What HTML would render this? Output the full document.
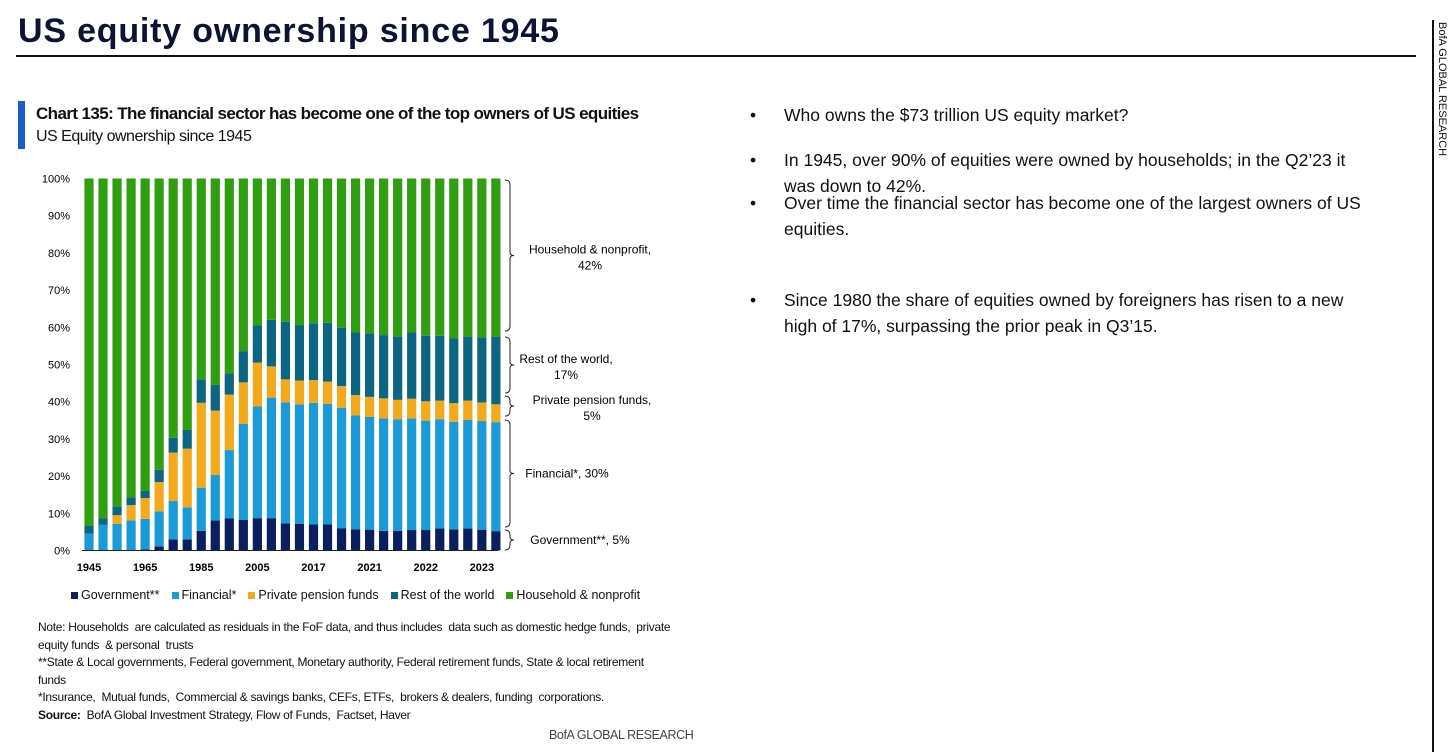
<!DOCTYPE html>
<html><head><meta charset="utf-8">
<style>
body{margin:0;width:1456px;height:752px;background:#fff;position:relative;overflow:hidden;font-family:"Liberation Sans",sans-serif;color:#111}
.a{position:absolute;white-space:nowrap}
.n{font-family:"Liberation Sans Narrow","Liberation Sans",sans-serif}
.b{position:absolute;left:784px;width:600px;font-size:17.5px;line-height:26px;color:#111}
.b:before{content:"•";position:absolute;left:-34px}
</style></head><body>
<div class="a" style="left:18px;top:12px;font-size:34px;font-weight:bold;color:#0b1533;letter-spacing:0.8px">US equity ownership since 1945</div>
<div class="a" style="left:16px;top:55px;width:1400px;height:1.5px;background:#111"></div>
<div class="a" style="left:1432px;top:20px;width:1.5px;height:732px;background:#111"></div>
<div class="a" style="left:1436px;top:22px;font-size:11px;writing-mode:vertical-rl">BofA GLOBAL RESEARCH</div>
<div class="a" style="left:18px;top:101px;width:7px;height:48px;background:#1a5ccc"></div>
<div class="a n" style="left:36px;top:104px;font-size:17px;font-weight:bold;letter-spacing:-0.6px">Chart 135: The financial sector has become one of the top owners of US equities</div>
<div class="a n" style="left:36px;top:128px;font-size:16px;letter-spacing:-0.5px">US Equity ownership since 1945</div>
<svg class="a" style="left:0;top:0" width="700" height="620" id="chart"></svg>
<div class="a" style="left:71px;top:588px;font-size:12.5px" id="legend"></div>
<div class="a n" style="left:38px;top:619px;font-size:12px;line-height:17.5px;letter-spacing:-0.3px">Note: Households &nbsp;are calculated as residuals in the FoF data, and thus includes &nbsp;data such as domestic hedge funds, &nbsp;private<br>equity funds &nbsp;&amp; personal &nbsp;trusts<br>**State &amp; Local governments, Federal government, Monetary authority, Federal retirement funds, State &amp; local retirement<br>funds<br>*Insurance, &nbsp;Mutual funds, &nbsp;Commercial &amp; savings banks, CEFs, ETFs, &nbsp;brokers &amp; dealers, funding &nbsp;corporations.<br><b>Source:</b> &nbsp;BofA Global Investment Strategy, Flow of Funds, &nbsp;Factset, Haver</div>
<div class="a n" style="left:549px;top:728px;font-size:12.5px;color:#444;letter-spacing:-0.4px">BofA GLOBAL RESEARCH</div>
<div class="b" style="top:102px">Who owns the $73 trillion US equity market?</div>
<div class="b" style="top:147px">In 1945, over 90% of equities were owned by households; in the Q2’23 it<br>was down to 42%.</div>
<div class="b" style="top:190px">Over time the financial sector has become one of the largest owners of US<br>equities.</div>
<div class="b" style="top:287px">Since 1980 the share of equities owned by foreigners has risen to a new<br>high of 17%, surpassing the prior peak in Q3’15.</div>
<script>
const categories=["1945","","","","1965","","","","1985","","","","2005","","","","2017","","","","2021","","","","2022","","","","2023",""];
const government=[0,0,0,0,0.3,1.1,3.0,3.0,5.3,8.1,8.6,8.2,8.7,8.7,7.3,7.2,7.0,7.0,6.0,5.7,5.6,5.3,5.3,5.5,5.5,5.9,5.7,5.9,5.6,5.2];
const financialCum=[4.5,6.9,7.2,8.1,8.5,10.5,13.3,11.6,16.9,20.3,27.0,34.0,38.7,41.1,39.8,39.3,39.7,39.4,38.4,36.3,35.9,35.5,35.3,35.5,34.9,35.3,34.6,35.1,34.8,34.5];
const pensionCum=[4.5,6.9,9.5,12.2,14.1,18.4,26.3,27.4,39.7,37.6,41.9,45.2,50.5,49.5,46.0,45.7,45.8,45.4,44.2,41.8,41.3,40.9,40.5,40.8,40.1,40.3,39.6,40.3,39.8,39.3];
const rowCum=[6.6,8.7,11.8,14.3,16.1,21.7,30.3,32.4,46.0,44.5,47.6,53.6,60.5,62.0,61.5,60.6,61.1,61.2,59.9,58.6,58.4,57.9,57.5,58.6,57.7,57.7,57.0,57.5,57.3,57.5];
const yTicks=[0,10,20,30,40,50,60,70,80,90,100];
const seriesNames=["Government**","Financial*","Private pension funds","Rest of the world","Household & nonprofit"];
const colors=["#0b1f5e","#1b9ad8","#f2a91c","#0d6584","#2f9e10"];
const NS="http://www.w3.org/2000/svg",svg=document.getElementById('chart');
const y=v=>550.5-v*3.72, x=i=>89+i*14.03;
function el(t,a){const e=document.createElementNS(NS,t);for(const k in a)e.setAttribute(k,a[k]);svg.appendChild(e);return e;}
yTicks.forEach(t=>{const e=el('text',{x:70,y:y(t)+4,'text-anchor':'end','font-size':11});e.textContent=t+'%';

});
categories.forEach((c,i)=>{
 const b=[0,government[i],financialCum[i],pensionCum[i],rowCum[i],100];
 for(let s=0;s<5;s++){if(b[s+1]<=b[s])continue;const r=el('rect',{x:x(i)-4.6,y:y(b[s+1]),width:9.2,height:y(b[s])-y(b[s+1]),fill:colors[s]});
 
 }
 if(c){const t=el('text',{x:x(i),y:571,'text-anchor':'middle','font-size':11,'font-weight':'bold'});t.textContent=c;
 
 }
});
const ax=el('line',{x1:82,x2:498,y1:550.5,y2:550.5,stroke:'#222','stroke-width':1});


const br=[[180,331,"Household & nonprofit,","42%",590],[337,393,"Rest of the world,","17%",566],[396,416,"Private pension funds,","5%",592],[420,527,"Financial*, 30%","",567],[530,550,"Government**, 5%","",580]];
br.forEach(b=>{const m=(b[0]+b[1])/2;
 const p=el('path',{d:`M505 ${b[0]} Q510 ${b[0]} 510 ${b[0]+5} L510 ${m-3} Q510 ${m} 514 ${m} Q510 ${m} 510 ${m+3} L510 ${b[1]-5} Q510 ${b[1]} 505 ${b[1]}`,fill:'none',stroke:'#222','stroke-width':1});
 
 
 const t1=el('text',{x:b[4],y:b[3]?m-2:m+4,'text-anchor':'middle','font-size':12});t1.textContent=b[2];
 
 
 if(b[3]){const t2=el('text',{x:b[4],y:m+14,'text-anchor':'middle','font-size':12});t2.textContent=b[3];
 
 }
});
const lg=document.getElementById('legend');
seriesNames.forEach((n,i)=>{const s=document.createElement('span');s.style.marginRight='12px';
s.innerHTML=`<span style="display:inline-block;width:7px;height:7px;background:${colors[i]};margin-right:3px"></span>${n}`;


lg.appendChild(s);});
</script>
</body></html>
